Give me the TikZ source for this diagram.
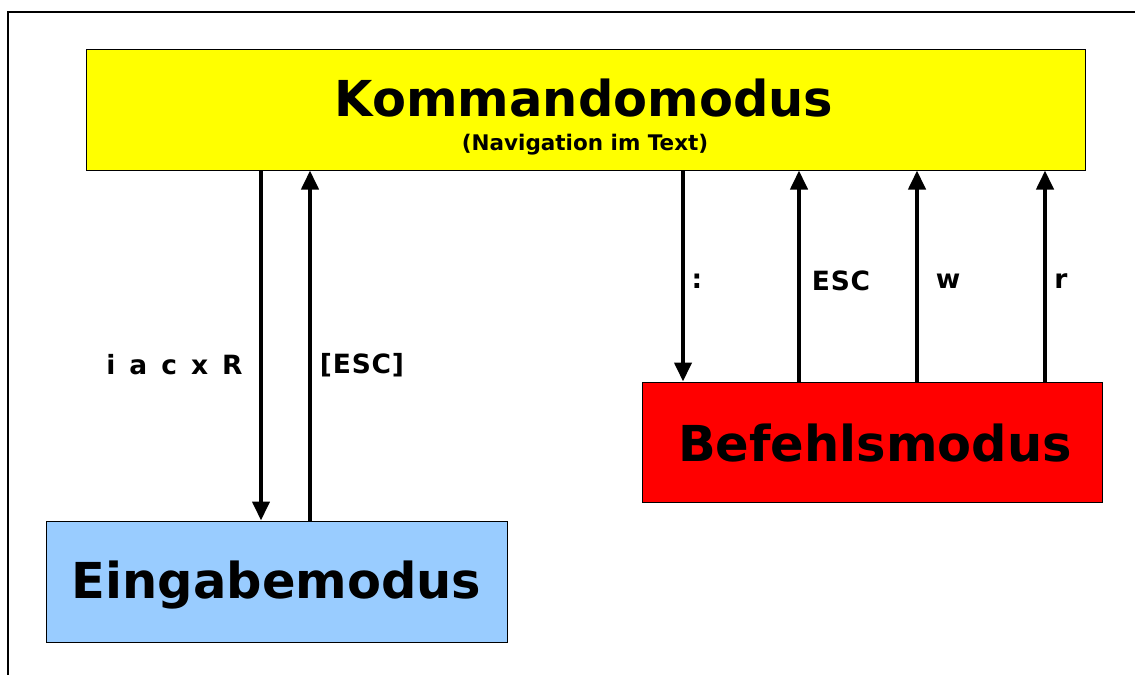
\documentclass[tikz,border=0pt]{standalone}
\usepackage{fontspec}
\setmainfont{DejaVu Sans}
\newfontfamily\lblfont[LetterSpace=3]{DejaVu Sans Bold}
\usetikzlibrary{arrows.meta}
\definecolor{kyellow}{RGB}{255,255,0}
\definecolor{ered}{RGB}{255,0,0}
\definecolor{eblue}{RGB}{153,204,255}
\tikzset{
  modebox/.style={draw=black, line width=1pt, inner sep=0pt},
  title/.style={font=\fontsize{49.5}{58}\selectfont\bfseries, inner sep=0pt},
  sub/.style={font=\fontsize{21.5}{25}\selectfont\bfseries, inner sep=0pt},
  lbl/.style={font=\fontsize{26.5}{30}\selectfont\lblfont, inner sep=0pt},
  arr/.style={line width=4pt, -{Triangle[length=19pt,width=17pt]}},
}
\begin{document}
\begin{tikzpicture}[x=1pt,y=-1pt]
\useasboundingbox (0,0) rectangle (1135,675);
% frame
\draw[line width=1.5pt] (1135,12) -- (8,12) -- (8,675);
% boxes
\node[modebox, fill=kyellow, minimum width=999pt, minimum height=121pt] (k) at (585.5,109.5) {};
\node[modebox, fill=eblue, minimum width=461pt, minimum height=121pt] (e) at (276.5,581.5) {};
\node[modebox, fill=ered, minimum width=460pt, minimum height=120pt] (b) at (872,442) {};
% texts
\node[title] (kt) at (584,98) {Kommandomodus};
\node[sub] (ks) at (585,145) {(Navigation im Text)};
\node[title] (et) at (276.5,585) {Eingabemodus};
\node[title] (bt) at (875,443) {Befehlsmodus};
% arrow columns
\coordinate (c1) at (261,0);
\coordinate (c2) at (310,0);
\coordinate (c3) at (683,0);
\coordinate (c4) at (799,0);
\coordinate (c5) at (917,0);
\coordinate (c6) at (1045,0);
\draw[arr] (k.south -| c1) -- (e.north -| c1);
\draw[arr] (e.north -| c2) -- (k.south -| c2);
\draw[arr] (k.south -| c3) -- (b.north -| c3);
\draw[arr] (b.north -| c4) -- (k.south -| c4);
\draw[arr] (b.north -| c5) -- (k.south -| c5);
\draw[arr] (b.north -| c6) -- (k.south -| c6);
% labels
\node[lbl] (l1) at (174.5,365) {i\hspace{14pt}a\hspace{14pt}c\hspace{14pt}x\hspace{14pt}R};
\node[lbl] (l2) at (362,365) {[ESC]};
\node[lbl] (l3) at (697,281) {:};
\node[lbl] (l4) at (841,281) {ESC};
\node[lbl] (l5) at (948,281) {w};
\node[lbl] (l6) at (1061,281) {r};
\end{tikzpicture}
\end{document}
